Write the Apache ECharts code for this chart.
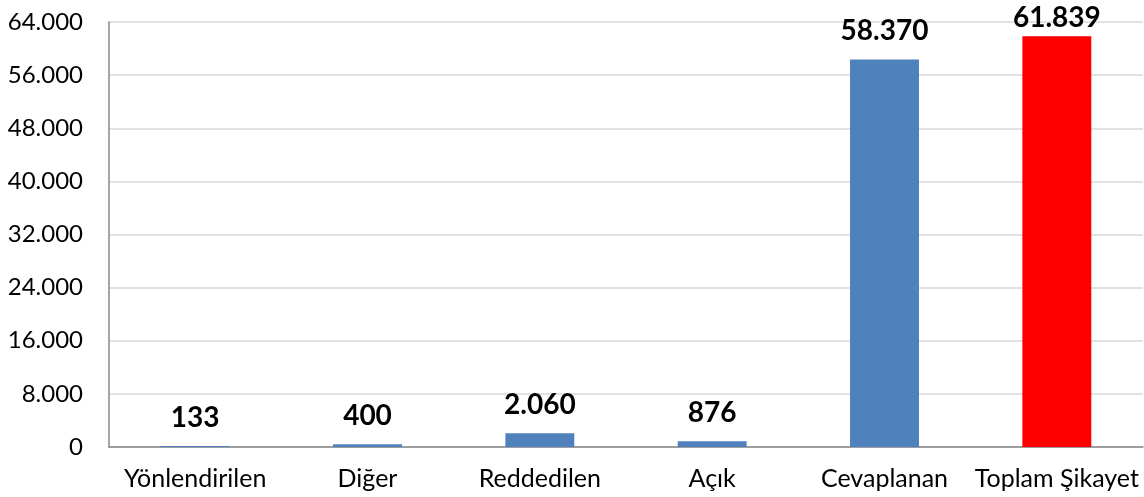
<!DOCTYPE html>
<html><head><meta charset="utf-8">
<script src="https://cdn.jsdelivr.net/npm/echarts@6/dist/echarts.min.js"></script>
<style>html,body{margin:0;padding:0;background:#fff}#c{width:1144px;height:497px}</style>
</head><body><div id="c"></div>
<script>
const categories = ["Yönlendirilen", "Diğer", "Reddedilen", "Açık", "Cevaplanan", "Toplam Şikayet"];
const values = [133, 400, 2060, 876, 58370, 61839];
const barColors = ["#4F81BD", "#4F81BD", "#4F81BD", "#4F81BD", "#4F81BD", "#FF0000"];

function fmt(v) { return String(v).replace(/\B(?=(\d{3})+(?!\d))/g, "."); }

const chart = echarts.init(document.getElementById('c'));
chart.setOption({
  animation: false,
  grid: { left: 109, right: 1, top: 22, bottom: 50 },
  xAxis: {
    type: 'category', data: categories,
    axisLine: { lineStyle: { color: '#888888', width: 1.5 } },
    axisTick: { show: false },
    axisLabel: { color: '#000', fontSize: 25, fontFamily: 'Lato', margin: 19, interval: 0 }
  },
  yAxis: {
    type: 'value', min: 0, max: 64000, interval: 8000,
    axisLine: { show: true, lineStyle: { color: '#888888', width: 1.5 } },
    axisTick: { show: false },
    splitLine: { lineStyle: { color: '#D9D9D9', width: 1.5 } },
    axisLabel: { color: '#000', fontSize: 24, fontFamily: 'Lato', margin: 26, formatter: fmt }
  },
  series: [{
    type: 'bar', barWidth: '40%',
    data: values.map((v, i) => ({
      value: v, itemStyle: { color: barColors[i] },
      label: i === values.length - 1 ? { distance: 4 } : undefined
    })),
    label: { show: true, position: 'top', distance: 14, color: '#000', fontWeight: 'bold',
      fontSize: 28, fontFamily: 'Lato', formatter: p => fmt(p.value) }
  }]
});
</script></body></html>
